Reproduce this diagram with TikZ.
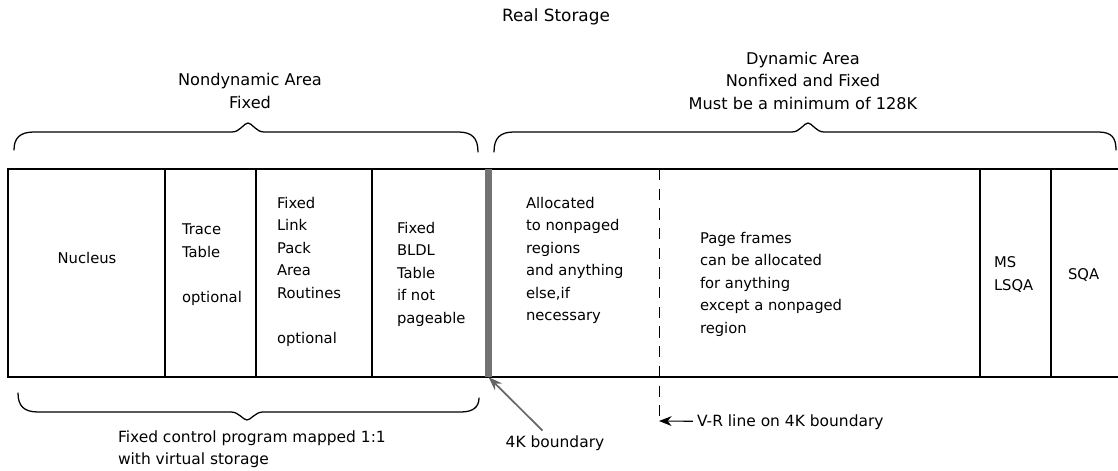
\documentclass[tikz,border=0pt]{standalone}
\usepackage{fontspec}
\setmainfont{DejaVu Sans}
\usetikzlibrary{arrows.meta}
\newcommand{\cellfont}{\fontsize{10.5}{16}\selectfont}
\newcommand{\areafont}{\fontsize{11.5}{16}\selectfont}
\newcommand{\notefont}{\fontsize{11}{15.6}\selectfont}
\begin{document}
\begin{tikzpicture}[x=0.025cm,y=-0.025cm,inner sep=0pt,outer sep=0pt,line width=1pt,
celltext/.style={align=left,anchor=north west,font=\cellfont},
areatext/.style={align=center,font=\areafont},
bracepath/.style={line width=0.9pt,line join=round,line cap=round}]
\useasboundingbox (0,0) rectangle (1118,471);
\draw (1118,169) -- (8,169) -- (8,377) -- (1118,377);
\draw (165,169) -- (165,377);
\draw (256,169) -- (256,377);
\draw (372,169) -- (372,377);
\draw (980,169) -- (980,377);
\draw (1051,169) -- (1051,377);
\draw (488.5,273) node[fill=black!55,minimum width=0.175cm,minimum height=5.2cm] (bar) {};
\draw[line width=0.6pt,dash pattern=on 8pt off 6pt] (659,169) -- (659,421) coordinate (vr end);
\draw (556,17) node[font=\fontsize{12}{14}\selectfont] (title) {Real Storage};
\draw (250,91) node[areatext] (nondyn) {Nondynamic Area\\Fixed};
\draw (803,80.5) node[areatext] (dyn) {Dynamic Area\\Nonfixed and Fixed\\Must be a minimum of 128K};
\draw (87,258) node[font=\cellfont] (nucleus) {Nucleus};
\draw (182,224) node[celltext] (trace) {Trace\\Table\\[16pt]optional};
\draw (277,197) node[celltext] (lpa) {Fixed\\Link\\Pack\\Area\\Routines\\[16pt]optional};
\draw (397,222) node[celltext] (bldl) {Fixed\\BLDL\\Table\\if not\\pageable};
\draw (526,197) node[celltext] (alloc) {Allocated\\to nonpaged\\regions\\and anything\\else,if\\necessary};
\draw (700,232) node[celltext] (frames) {Page frames\\can be allocated\\for anything\\except a nonpaged\\region};
\draw (994,257) node[celltext] (lsqa) {MS\\LSQA};
\draw (1068,275) node[anchor=west,font=\cellfont] (sqa) {SQA};
\draw[bracepath] (14,150) .. controls (14,138) and (20,132) .. (34,132) -- (232,132)
  .. controls (240,132) and (244,123) .. (248,123) .. controls (252,123) and (256,132) .. (264,132)
  -- (458,132) .. controls (472,132) and (478,138) .. (478,152);
\draw[bracepath] (494,152) .. controls (494,138) and (500,132) .. (514,132) -- (792,132)
  .. controls (800,132) and (804,123) .. (808,123) .. controls (812,123) and (816,132) .. (824,132)
  -- (1098,132) .. controls (1112,132) and (1116,138) .. (1116,150);
\draw[bracepath] (18,393) .. controls (18,406) and (24,412) .. (38,412) -- (231,412)
  .. controls (239,412) and (243,420) .. (247,420) .. controls (251,420) and (255,412) .. (263,412)
  -- (461,412) .. controls (473,412) and (479,407) .. (479,398);
\draw (118,431) node[celltext,font=\notefont] (mapped) {Fixed control program mapped 1:1\\with virtual storage};
\draw (555,443) node[font=\notefont] (k4) {4K boundary};
\draw (697,422) node[anchor=west,font=\notefont] (vr) {V-R line on 4K boundary};
\draw[-{Stealth[length=10pt,width=7pt]},line width=1.2pt,black!60,shorten <=5pt] (k4) -- (bar.south);
\draw[-{Stealth[length=9pt,width=7pt]},line width=0.8pt,shorten <=3pt] (vr) -- (vr end);
\end{tikzpicture}
\end{document}
